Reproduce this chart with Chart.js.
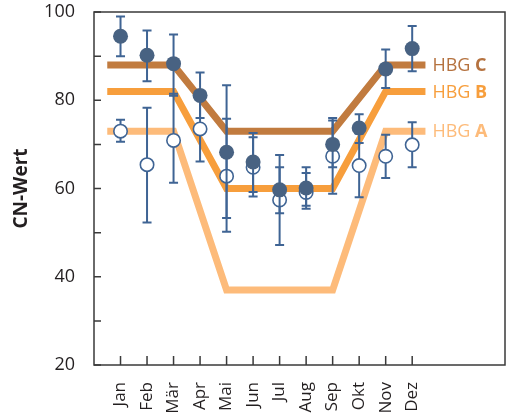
<!DOCTYPE html>
<html>
<head>
<meta charset="utf-8">
<script src="https://cdn.jsdelivr.net/npm/chart.js@4/dist/chart.umd.min.js"></script>
<style>
  html, body { margin: 0; padding: 0; background: #fff; }
  #wrap { width: 506px; height: 417px; }
</style>
</head>
<body>
<div id="wrap"><canvas id="cn"></canvas></div>
<script>
// Monthly CN values
const months = ['Jan','Feb','Mär','Apr','Mai','Jun','Jul','Aug','Sep','Okt','Nov','Dez'];

// filled markers: mean and error range
const filledMean = [94.5, 90.2, 88.3, 81.1, 68.2, 66.0, 59.7, 60.1, 70.0, 73.7, 87.1, 91.7];
const filledHigh = [99.0, 95.8, 94.9, 86.3, 83.4, 72.6, 64.8, 63.5, 76.0, 76.8, 91.5, 96.8];
const filledLow  = [90.0, 84.3, 81.0, 76.0, 53.3, 59.2, 54.4, 56.1, 64.8, 70.3, 82.8, 86.6];

// open markers: mean and error range
const openMean = [73.0, 65.4, 70.9, 73.5, 62.8, 64.8, 57.4, 59.1, 67.3, 65.2, 67.3, 69.9];
const openHigh = [75.6, 78.3, 81.5, 81.0, 75.8, 71.6, 67.6, 64.8, 75.4, 72.4, 72.2, 75.0];
const openLow  = [70.6, 52.3, 61.3, 66.1, 50.2, 58.2, 47.2, 55.4, 58.8, 58.0, 62.4, 64.8];

// soil group curves (breakpoints on the month axis)
const curveX = [0.5, 3, 5, 9, 11, 12.5];
const hbgC = [88, 88, 73, 73, 88, 88];
const hbgB = [82, 82, 60, 60, 82, 82];
const hbgA = [73, 73, 37, 37, 73, 73];
const groupLetters = ['C', 'B', 'A'];

const yTickValues = [20, 30, 40, 50, 60, 70, 80, 90, 100];

const FONT = "'Open Sans', 'Noto Sans', sans-serif";
const TEXT = '#231f20';
const BLUE_FILL = '#486282';
const BLUE_LINE = '#3f6494';
const COL_C = '#c17b3f', COL_B = '#f79e3c', COL_A = '#fdbb7a';
const TXT_C = '#b5723f', TXT_B = '#f79e3c', TXT_A = '#fdbb7a';

const pts = (arr) => arr.map((v, i) => ({ x: i + 1, y: v }));
const curve = (arr) => arr.map((v, i) => ({ x: curveX[i], y: v }));

// error bars drawn just before each marker dataset
const errorBars = {
  id: 'errorBars',
  beforeDatasetDraw(chart, args) {
    const ds = chart.data.datasets[args.index];
    if (!ds.errLow) return;
    const xs = chart.scales.x, ys = chart.scales.y;
    const ctx = chart.ctx;
    ctx.save();
    ctx.strokeStyle = BLUE_LINE;
    ctx.lineWidth = 2;
    ds.data.forEach((p, i) => {
      const x = xs.getPixelForValue(p.x);
      const yH = ys.getPixelForValue(ds.errHigh[i]);
      const yL = ys.getPixelForValue(ds.errLow[i]);
      ctx.beginPath();
      ctx.moveTo(x, yH); ctx.lineTo(x, yL);
      ctx.moveTo(x - 4.5, yH); ctx.lineTo(x + 4.5, yH);
      ctx.moveTo(x - 4.5, yL); ctx.lineTo(x + 4.5, yL);
      ctx.stroke();
    });
    ctx.restore();
  }
};

// frame, inward tick marks and curve labels
const decorations = {
  id: 'decorations',
  afterDraw(chart) {
    const ctx = chart.ctx, a = chart.chartArea;
    const xs = chart.scales.x, ys = chart.scales.y;
    ctx.save();
    ctx.strokeStyle = '#3a3a3a';
    ctx.lineWidth = 1.5;
    ctx.strokeRect(a.left, a.top, a.right - a.left, a.bottom - a.top);
    ctx.beginPath();
    yTickValues.forEach(v => {
      const y = ys.getPixelForValue(v);
      ctx.moveTo(a.left, y); ctx.lineTo(a.left + 7, y);
    });
    months.forEach((m, i) => {
      const x = xs.getPixelForValue(i + 1);
      ctx.moveTo(x, a.bottom); ctx.lineTo(x, a.bottom - 9);
    });
    ctx.stroke();

    // labels at the right end of each curve
    ctx.textBaseline = 'middle';
    ctx.textAlign = 'left';
    const groups = [[hbgC, TXT_C], [hbgB, TXT_B], [hbgA, TXT_A]];
    groups.forEach(([vals, col], gi) => {
      const x = xs.getPixelForValue(curveX[curveX.length - 1]) + 7;
      const y = ys.getPixelForValue(vals[vals.length - 1]) + 1;
      ctx.fillStyle = col;
      ctx.font = `400 18px ${FONT}`;
      const pre = 'HBG ';
      ctx.fillText(pre, x, y);
      const w = ctx.measureText(pre).width;
      ctx.font = `700 18px ${FONT}`;
      ctx.fillText(groupLetters[gi], x + w, y);
    });
    ctx.restore();
  }
};

new Chart(document.getElementById('cn'), {
  data: {
    datasets: [
      { type: 'scatter', label: 'filled', data: pts(filledMean), errLow: filledLow, errHigh: filledHigh,
        order: 0, pointRadius: 7.5, pointHoverRadius: 7.5, backgroundColor: BLUE_FILL, borderColor: BLUE_FILL, borderWidth: 0 },
      { type: 'scatter', label: 'open', data: pts(openMean), errLow: openLow, errHigh: openHigh,
        order: 1, pointRadius: 6.7, pointHoverRadius: 6.7, backgroundColor: '#ffffff', borderColor: BLUE_LINE, borderWidth: 1.6 },
      { type: 'line', label: 'HBG C', data: curve(hbgC), order: 2, borderColor: COL_C, borderWidth: 7,
        pointRadius: 0, tension: 0, borderCapStyle: 'butt', borderJoinStyle: 'miter' },
      { type: 'line', label: 'HBG B', data: curve(hbgB), order: 3, borderColor: COL_B, borderWidth: 7,
        pointRadius: 0, tension: 0, borderCapStyle: 'butt', borderJoinStyle: 'miter' },
      { type: 'line', label: 'HBG A', data: curve(hbgA), order: 4, borderColor: COL_A, borderWidth: 7,
        pointRadius: 0, tension: 0, borderCapStyle: 'butt', borderJoinStyle: 'miter' }
    ]
  },
  options: {
    responsive: true,
    maintainAspectRatio: false,
    animation: false,
    layout: { autoPadding: false, padding: { left: 0, top: 12, right: 1, bottom: 0 } },
    plugins: { legend: { display: false }, tooltip: { enabled: false } },
    scales: {
      x: {
        type: 'linear', min: 0, max: 15.5,
        grid: { display: false, drawTicks: false }, border: { display: false },
        afterBuildTicks: (s) => { s.ticks = months.map((m, i) => ({ value: i + 1 })); },
        afterFit: (s) => { s.height = 52; s.paddingLeft = 0; s.paddingRight = 0; },
        ticks: {
          autoSkip: false, maxRotation: 90, minRotation: 90, padding: 17,
          color: TEXT, font: { family: FONT, size: 17 },
          callback: (v) => months[v - 1]
        }
      },
      y: {
        type: 'linear', min: 20, max: 100,
        grid: { display: false, drawTicks: false }, border: { display: false },
        afterBuildTicks: (s) => { s.ticks = yTickValues.map(v => ({ value: v })); },
        afterFit: (s) => { s.width = 94; s.paddingTop = 0; s.paddingBottom = 0; },
        ticks: {
          padding: 19, color: TEXT, font: { family: FONT, size: 18 },
          callback: (v) => (v % 20 === 0 ? v : '')
        },
        title: {
          display: true, text: 'CN-Wert', color: TEXT,
          font: { family: FONT, size: 19, weight: 'bold' },
          padding: { top: 10, bottom: 0 }
        }
      }
    }
  },
  plugins: [errorBars, decorations]
});
</script>
</body>
</html>
